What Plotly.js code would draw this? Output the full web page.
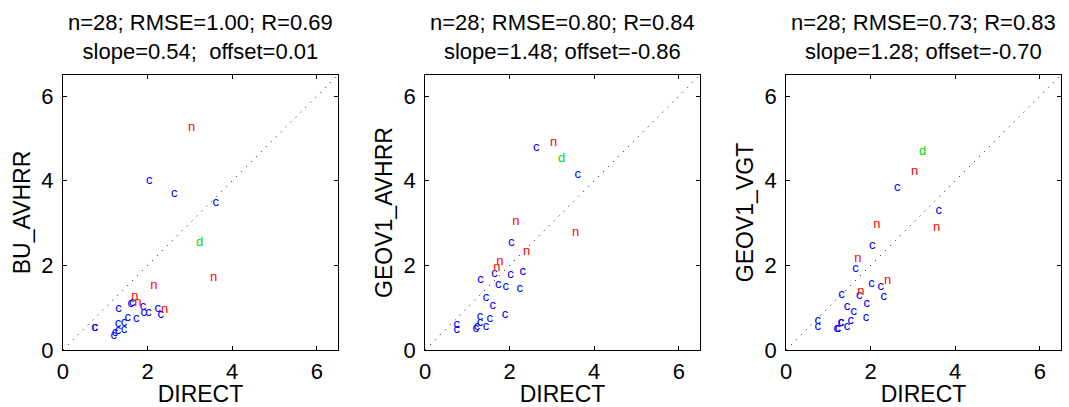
<!DOCTYPE html>
<html>
<head>
<meta charset="utf-8">
<script src="https://cdn.plot.ly/plotly-3.0.1.min.js"></script>
<style>html,body{margin:0;padding:0;background:#fff;}#chart{width:1069px;height:407px;}</style>
</head>
<body>
<div id="chart"></div>
<script>
// ---- data ----
var pointClass = ["c","c","c","c","c","c","c","c","c","c","c","c","c","c","c","c","c","c","c","c","c",
                  "n","n","n","n","n","n","d"];
var direct     = [2.63,3.61,2.04,1.64,2.02,2.31,1.31,1.73,1.91,2.24,1.44,1.60,1.89,1.30,1.53,1.30,1.44,0.75,0.75,1.20,1.23,
                  3.04,3.56,2.15,2.40,1.77,1.70,3.23];
var buAvhrr    = [3.70,3.49,4.00,1.12,0.87,0.83,0.98,0.75,0.87,0.98,0.65,1.10,1.03,0.61,0.77,0.46,0.48,0.53,0.53,0.34,0.40,
                  5.24,1.70,1.52,0.96,1.11,1.26,2.54];
var geov1Avhrr = [4.78,4.14,2.53,1.79,1.77,1.84,1.65,1.55,1.49,1.44,1.24,1.04,0.83,0.79,0.73,0.64,0.56,0.59,0.48,0.51,0.55,
                  4.89,2.76,3.02,2.31,2.08,1.94,4.53];
var geov1Vgt   = [3.84,3.28,2.46,1.91,1.56,1.26,1.30,1.29,1.10,1.50,1.02,0.91,0.77,0.65,0.69,0.65,0.56,0.69,0.56,0.51,0.51,
                  4.20,2.89,2.96,1.63,1.37,2.16,4.69];
var panelYTitles = ["BU_AVHRR","GEOV1_AVHRR","GEOV1_VGT"];
var panelTitles = [
  "n=28; RMSE=1.00; R=0.69<br>slope=0.54;\u00a0\u00a0offset=0.01",
  "n=28; RMSE=0.80; R=0.84<br>slope=1.48; offset=-0.86",
  "n=28; RMSE=0.73; R=0.83<br>slope=1.28; offset=-0.70"
];
var axisRange = [0, 6.5];
var tickVals = [0, 2, 4, 6];

// ---- styling ----
var classColor = {c: "rgb(0,0,255)", n: "rgb(255,0,0)", d: "rgb(0,220,0)"};
var FONT = "Liberation Sans, Arial, sans-serif";
var xDomains = [[0.0589,0.3162],[0.3976,0.6548],[0.7353,0.9925]];
var yDomain = [0.140, 0.816];
var series = [buAvhrr, geov1Avhrr, geov1Vgt];

var traces = [];
var layout = {
  width: 1069, height: 407,
  margin: {l:0, r:0, t:0, b:0},
  paper_bgcolor: "#fff", plot_bgcolor: "#fff",
  showlegend: false,
  font: {family: FONT, color: "#000"},
  annotations: []
};

series.forEach(function(ys, p) {
  var sfx = p === 0 ? "" : String(p+1);
  // 1:1 line
  traces.push({
    x: axisRange, y: axisRange, xaxis: "x"+sfx, yaxis: "y"+sfx,
    mode: "lines", line: {color: "#000", width: 1, dash: "1px,6px"},
    hoverinfo: "skip"
  });
  ["c","n","d"].forEach(function(cls) {
    var xs = [], yy = [], tx = [];
    for (var i = 0; i < pointClass.length; i++) {
      if (pointClass[i] === cls) { xs.push(direct[i]); yy.push(ys[i]); tx.push(cls); }
    }
    traces.push({
      x: xs, y: yy, text: tx, xaxis: "x"+sfx, yaxis: "y"+sfx,
      mode: "text", textposition: "middle center",
      textfont: {family: FONT, size: 13, color: classColor[cls]},
      cliponaxis: false
    });
  });
  var axCommon = {
    range: axisRange, tickvals: tickVals, ticks: "inside", ticklen: 4,
    tickcolor: "#000", showline: true, linecolor: "#000", linewidth: 1,
    mirror: "ticks", showgrid: false, zeroline: false,
    tickfont: {family: FONT, size: 22, color: "#000"}, automargin: false
  };
  layout["xaxis"+sfx] = Object.assign({}, axCommon, {
    domain: xDomains[p], anchor: "y"+sfx, ticklabelstandoff: 2,
    title: {text: "DIRECT", font: {family: FONT, size: 23, color: "#000"}, standoff: 6}
  });
  layout["yaxis"+sfx] = Object.assign({}, axCommon, {
    domain: yDomain, anchor: "x"+sfx, ticklabelstandoff: 4,
    title: {text: panelYTitles[p], font: {family: FONT, size: 23, color: "#000"}, standoff: 4}
  });
  layout.annotations.push({
    text: panelTitles[p], xref: "paper", yref: "paper",
    x: (xDomains[p][0]+xDomains[p][1])/2, y: 0.909,
    xanchor: "center", yanchor: "middle", showarrow: false,
    font: {family: FONT, size: 22, color: "#000"}
  });
});

Plotly.newPlot("chart", traces, layout, {staticPlot: true, displayModeBar: false});
</script>
</body>
</html>
